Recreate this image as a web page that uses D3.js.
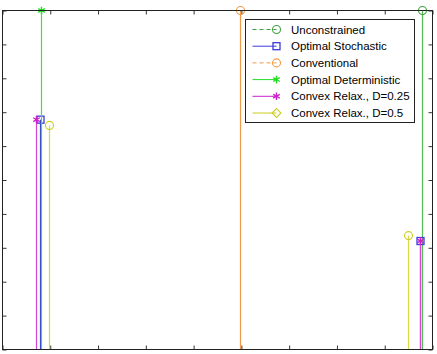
<!DOCTYPE html>
<html><head><meta charset="utf-8">
<script src="https://cdn.jsdelivr.net/npm/d3@7"></script>
<style>body{margin:0;background:#fff}svg{display:block}</style>
</head><body>
<script>
// ---- data ----
const seriesNames = ["Unconstrained","Optimal Stochastic","Conventional","Optimal Deterministic","Convex Relax., D=0.25","Convex Relax., D=0.5"];
const unconstrainedX = [8.77], unconstrainedY = [1.0];
const stochasticX = [0.79, 8.73], stochasticY = [0.678, 0.32];
const conventionalX = [4.98], conventionalY = [1.0];
const deterministicX = [0.80], deterministicY = [1.0];
const convex025X = [0.71, 8.73], convex025Y = [0.678, 0.32];
const convex05X = [0.98, 8.48], convex05Y = [0.661, 0.336];
const xTicks = [0,1,2,3,4,5,6,7,8,9];
const yTicks = [0,0.1,0.2,0.3,0.4,0.5,0.6,0.7,0.8,0.9,1.0];

// ---- styles ----
const styles = [
  {color:"#3f9f3f", stem:"#55bb55", marker:"circle", legendMarker:"circle", dash:"4,3"},
  {color:"#3c3cd8", stem:"#3c3cd8", marker:"square", legendMarker:"square", dash:null},
  {color:"#f09a48", stem:"#f09a48", marker:"circle", legendMarker:"circle", dash:"4,3"},
  {color:"#22dd22", stem:"#44e044", marker:"star", legendMarker:"star", dash:null},
  {color:"#cc22cc", stem:"#d844d8", marker:"star", legendMarker:"star", dash:null},
  {color:"#cccc22", stem:"#d8d840", marker:"circle", legendMarker:"diamond", dash:null}
];
const seriesData = [
  [unconstrainedX, unconstrainedY],
  [stochasticX, stochasticY],
  [conventionalX, conventionalY],
  [deterministicX, deterministicY],
  [convex025X, convex025Y],
  [convex05X, convex05Y]
];

const W = 437, H = 354;
const m = {left:2, top:10, right:5, bottom:5};
const svg = d3.select("body").append("svg").attr("width", W).attr("height", H);
const x = d3.scaleLinear().domain([0,9]).range([m.left+0.5, W-m.right+0.5]);
const y = d3.scaleLinear().domain([0,1]).range([H-m.bottom+0.5, m.top+0.5]);

// axes with inward ticks, no labels
function styleAxis(g){ g.selectAll("path").remove(); g.selectAll("line").attr("stroke","#333"); g.selectAll("text").remove(); }
svg.append("g").attr("transform",`translate(0,${y(0)})`).call(d3.axisBottom(x).tickValues(xTicks).tickSize(-4).tickFormat("")).call(styleAxis);
svg.append("g").attr("transform",`translate(0,${y(1)})`).call(d3.axisTop(x).tickValues(xTicks).tickSize(-4).tickFormat("")).call(styleAxis);
svg.append("g").attr("transform",`translate(${x(0)},0)`).call(d3.axisLeft(y).tickValues(yTicks).tickSize(-4).tickFormat("")).call(styleAxis);
svg.append("g").attr("transform",`translate(${x(9)},0)`).call(d3.axisRight(y).tickValues(yTicks).tickSize(-4).tickFormat("")).call(styleAxis);

function drawMarker(g, type, cx, cy, color){
  if(type==="circle"){
    g.append("circle").attr("cx",cx).attr("cy",cy).attr("r",4).attr("fill","none").attr("stroke",color).attr("stroke-width",1.1);
  } else if(type==="square"){
    g.append("rect").attr("x",cx-3.5).attr("y",cy-3.5).attr("width",7).attr("height",7).attr("fill","none").attr("stroke",color).attr("stroke-width",1.3);
  } else if(type==="star"){
    g.append("path").attr("transform",`translate(${cx},${cy})`).attr("d",d3.symbol(d3.symbolAsterisk,40)()).attr("fill","none").attr("stroke",color).attr("stroke-width",1.4);
  } else if(type==="diamond"){
    g.append("path").attr("transform",`translate(${cx},${cy})`).attr("d",d3.symbol(d3.symbolDiamond2,50)()).attr("fill","none").attr("stroke",color).attr("stroke-width",1.1);
  }
}

const plot = svg.append("g");
seriesData.forEach(([xs, ys], i) => {
  const s = styles[i];
  const g = plot.append("g");
  xs.forEach((xv, j) => {
    g.append("line").attr("x1",Math.round(x(xv))+0.5).attr("x2",Math.round(x(xv))+0.5)
      .attr("y1",y(0)).attr("y2",y(ys[j])).attr("stroke",s.stem).attr("stroke-width",1.2);
  });
  xs.forEach((xv, j) => drawMarker(g, s.marker, Math.round(x(xv))+0.5, y(ys[j]), s.color));
});

// frame
svg.append("rect").attr("x",x(0)).attr("y",y(1)).attr("width",x(9)-x(0)).attr("height",y(0)-y(1))
  .attr("fill","none").attr("stroke","#222").attr("stroke-width",1);

// legend
const lg = svg.append("g").attr("transform","translate(245.5,19.5)");
lg.append("rect").attr("width",169).attr("height",103).attr("fill","#fff").attr("stroke","#222").attr("stroke-width",1);
seriesNames.forEach((name, i) => {
  const s = styles[i];
  const yy = 10 + i*16.7;
  lg.append("line").attr("x1",7).attr("x2",31).attr("y1",yy).attr("y2",yy)
    .attr("stroke",s.color).attr("stroke-width",1).attr("stroke-dasharray",s.dash);
  drawMarker(lg, s.legendMarker, 31, yy, s.color);
  lg.append("text").attr("x",45.5).attr("y",yy+4).text(name)
    .attr("font-family","Liberation Sans, Arial, sans-serif").attr("font-size","11.5px").attr("fill","#000");
});
</script>
</body></html>
